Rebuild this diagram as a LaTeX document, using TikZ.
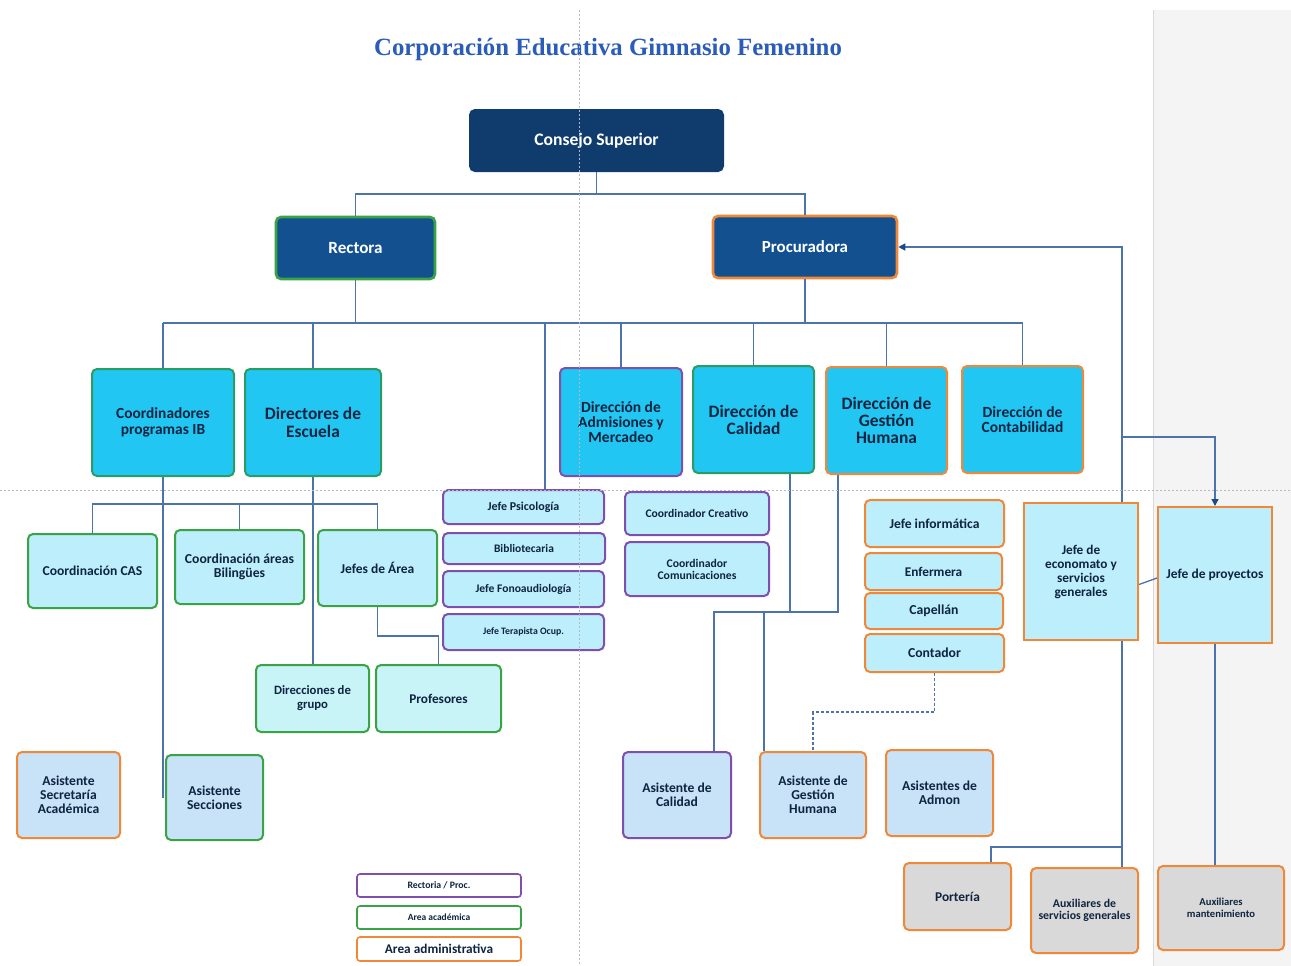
\documentclass[tikz,border=0pt]{standalone}
\usepackage{fontspec}
\setmainfont{Carlito}
\newfontfamily\titlefont{Liberation Serif}
\usetikzlibrary{arrows.meta,calc}
\definecolor{cnavy}{HTML}{0F3C6C}
\definecolor{cblue}{HTML}{12508F}
\definecolor{ccyan}{HTML}{22C6F2}
\definecolor{clt}{HTML}{BDEEFB}
\definecolor{cmint}{HTML}{C8F3F7}
\definecolor{cas}{HTML}{C8E2F8}
\definecolor{cgray}{HTML}{D9D9D9}
\definecolor{cgreen}{HTML}{3AA345}
\definecolor{cteal}{HTML}{2B9D62}
\definecolor{cpurple}{HTML}{7F4FAE}
\definecolor{corange}{HTML}{F08838}
\definecolor{cline}{HTML}{4D74AA}
\definecolor{carrow}{HTML}{1A4A8A}
\definecolor{ctext}{HTML}{0E2440}
\definecolor{ctitle}{HTML}{2B5CB8}
\definecolor{cguide}{HTML}{B8B8C4}
\definecolor{cbgg}{HTML}{F4F4F4}
\begin{document}
\begin{tikzpicture}[x=1pt,y=-1pt,
  base/.style={rounded corners=5pt, line width=2pt, align=center, inner sep=0pt, text=ctext},
  fs/.style 2 args={font=\bfseries\fontsize{#1}{#2}\selectfont},
  hdr/.style={base, fill=cblue, text=white},
  cy/.style={base, fill=ccyan},
  lt/.style={base, fill=clt},
  mint/.style={base, fill=cmint},
  asb/.style={base, fill=cas},
  gr/.style={base, fill=cgray},
  gb/.style={draw=cgreen},
  tb/.style={draw=cteal},
  pb/.style={draw=cpurple},
  ob/.style={draw=corange},
  lg/.style={base, fill=white, rounded corners=3pt, line width=1.6pt},
  conn/.style={draw=cline, line width=1.3pt},
  arr/.style={-{Triangle[length=7pt,width=7pt,color=carrow]}},
  guide/.style={draw=cguide, line width=0.8pt, dash pattern=on 2pt off 2pt}
]
\useasboundingbox (0,0) rectangle (1291,966);
\fill[white] (0,0) rectangle (1291,966);
\fill[cbgg] (1153,10) rectangle (1291,966);
\draw[gray!30, line width=1pt] (1153,10) -- (1153,966);

% title
\node[font=\titlefont\bfseries\fontsize{24.8}{26}\selectfont, text=ctitle] (title) at (608,50) {Corporación Educativa Gimnasio Femenino};

% top
\node[hdr, draw=cnavy, fill=cnavy, fs={17.6}{19}, minimum width=253, minimum height=61] (cons) at (596.5,140.5) {Consejo Superior};
\node[hdr, gb, line width=2.6pt, fs={17.1}{18}, minimum width=159, minimum height=62] (rect) at (355.5,248) {Rectora};
\node[hdr, ob, line width=2.6pt, fs={16.9}{18}, minimum width=184, minimum height=62] (proc) at (805,247) {Procuradora};

% cyan level
\node[cy, tb, fs={15.4}{16}, minimum width=142, minimum height=107] (ib) at (163,422.5) {Coordinadores\\programas IB};
\node[cy, tb, fs={17.4}{18}, minimum width=136, minimum height=107] (dire) at (313,422.5) {Directores de\\Escuela};
\node[cy, pb, fs={15.5}{15}, minimum width=122, minimum height=108] (adm) at (621,422) {Dirección de\\Admisiones y\\Mercadeo};
\node[cy, tb, fs={17.4}{17}, minimum width=121, minimum height=107] (cal) at (753.5,419.5) {Dirección de\\Calidad};
\node[cy, ob, fs={17.4}{17}, minimum width=121, minimum height=107] (gh) at (886.5,420.5) {Dirección de\\Gestión\\Humana};
\node[cy, ob, fs={15.5}{15}, minimum width=121, minimum height=107] (cont) at (1022.5,419.5) {Dirección de\\Contabilidad};

% second level
\node[lt, gb, fs={13.6}{14}, minimum width=129, minimum height=74] (cas) at (92.5,571) {Coordinación CAS};
\node[lt, gb, fs={13.7}{14}, minimum width=129, minimum height=74] (bil) at (239.5,567) {Coordinación áreas\\Bilingües};
\node[lt, gb, fs={13.5}{14}, minimum width=119, minimum height=76] (jar) at (377.5,568) {Jefes de Área};
\node[lt, pb, fs={12}{12}, minimum width=161, minimum height=34] (psi) at (523.5,507) {Jefe Psicología};
\node[lt, pb, fs={11.5}{12}, minimum width=162, minimum height=31] (bib) at (524,548.5) {Bibliotecaria};
\node[lt, pb, fs={11.6}{12}, minimum width=161, minimum height=36] (fon) at (523.5,589) {Jefe Fonoaudiología};
\node[lt, pb, fs={9.8}{10}, minimum width=161, minimum height=36] (ter) at (523.5,632) {Jefe Terapista Ocup.};
\node[lt, pb, fs={11.6}{12}, minimum width=144, minimum height=43] (ccr) at (697,513.5) {Coordinador Creativo};
\node[lt, pb, fs={11.7}{12}, minimum width=144, minimum height=54] (ccom) at (697,569) {Coordinador\\Comunicaciones};
\node[lt, ob, fs={13.6}{14}, minimum width=139, minimum height=47] (inf) at (934.5,523.5) {Jefe informática};
\node[lt, ob, fs={13.3}{14}, minimum width=137, minimum height=37] (enf) at (933.5,571.5) {Enfermera};
\node[lt, ob, fs={13.7}{14}, minimum width=138, minimum height=36] (cap) at (934,611) {Capellán};
\node[lt, ob, fs={13.7}{14}, minimum width=139, minimum height=38] (ctd) at (934.5,653) {Contador};
\node[lt, ob, sharp corners, fs={13.3}{14}, minimum width=114, minimum height=137] (eco) at (1081,571.5) {Jefe de\\economato y\\servicios\\generales};
\node[lt, ob, sharp corners, fs={13.5}{14}, minimum width=114, minimum height=136] (pry) at (1215,575) {Jefe de proyectos};

% third level
\node[mint, gb, fs={12.7}{14}, minimum width=113, minimum height=67] (dgr) at (312.5,698.5) {Direcciones de\\grupo};
\node[mint, gb, fs={13.3}{14}, minimum width=125, minimum height=67] (prof) at (438.5,698.5) {Profesores};

% assistants
\node[asb, ob, fs={13.6}{14}, minimum width=103, minimum height=86] (asa) at (68.5,795) {Asistente\\Secretaría\\Académica};
\node[asb, gb, fs={13.6}{14}, minimum width=97, minimum height=85] (ass) at (214.5,797.5) {Asistente\\Secciones};
\node[asb, pb, fs={13.6}{14}, minimum width=108, minimum height=86] (acal) at (677,795) {Asistente de\\Calidad};
\node[asb, ob, fs={13.6}{14}, minimum width=106, minimum height=86] (agh) at (813,795) {Asistente de\\Gestión\\Humana};
\node[asb, ob, fs={13.6}{14}, minimum width=107, minimum height=86] (aadm) at (939.5,793) {Asistentes de\\Admon};

% gray
\node[gr, ob, fs={13.4}{14}, minimum width=107, minimum height=67] (port) at (957.5,896.5) {Portería};
\node[gr, ob, fs={11.8}{12}, minimum width=107, minimum height=85] (aux) at (1084.5,910.5) {Auxiliares de\\servicios generales};
\node[gr, ob, fs={10.6}{12}, minimum width=126, minimum height=84] (mant) at (1221,908) {Auxiliares\\mantenimiento};

% legend
\node[lg, pb, fs={9.8}{10}, minimum width=164, minimum height=23] (l1) at (439,885.5) {Rectoria / Proc.};
\node[lg, gb, fs={9.5}{10}, minimum width=164, minimum height=23] (l2) at (439,917.5) {Area académica};
\node[lg, ob, fs={13.3}{14}, minimum width=164, minimum height=24] (l3) at (439,949) {Area administrativa};

% bus levels
\coordinate (b1) at (0,194);
\coordinate (b2) at (0,323);
\coordinate (b3) at (0,504);
\coordinate (b4) at (0,636);
\coordinate (b5) at (0,612);
\coordinate (b6) at (0,712);

% connectors
\draw[conn] (cons.south) -- (cons.south |- b1);
\draw[conn] (rect.north) -- (rect.north |- b1) -- (proc.north |- b1) -- (proc.north);
\draw[conn] (rect.south) -- (rect.south |- b2);
\draw[conn] (proc.south) -- (proc.south |- b2);
\draw[conn] (ib.north |- b2) -- (cont.north |- b2);
\draw[conn] (ib.north |- b2) -- (ib.north);
\draw[conn] (dire.north |- b2) -- (dire.north);
\coordinate (psitop) at ($(psi.north)+(21.5,0)$);
\draw[conn] (psitop |- b2) -- (psitop);
\draw[conn] (adm.north |- b2) -- (adm.north);
\draw[conn] (cal.north |- b2) -- (cal.north);
\draw[conn] (gh.north |- b2) -- (gh.north);
\draw[conn] (cont.north |- b2) -- (cont.north);

\draw[conn] (ib.south) -- (ib.south |- ass.west);
\draw[conn] (dire.south) -- (dire.south |- dgr.north);
\draw[conn] (cas.north) -- (cas.north |- b3) -- (jar.north |- b3) -- (jar.north);
\draw[conn] (bil.north) -- (bil.north |- b3);
\draw[conn] (jar.south) -- (jar.south |- b4) -| (prof.north);

\coordinate (calb) at ($(cal.south)+(36.5,0)$);
\coordinate (acalt) at ($(acal.north)+(37,0)$);
\draw[conn] (calb) -- (calb |- b5) -| (acalt);
\coordinate (ghb) at ($(gh.south)+(-48.5,0)$);
\coordinate (aght) at ($(agh.north)+(-49,0)$);
\draw[conn] (ghb) -- (ghb |- b5) -| (aght);
\draw[conn, dashed, dash pattern=on 3pt off 2pt] (ctd.south) -- (ctd.south |- b6) -| (agh.north);

\coordinate (ecot) at ($(eco.north)+(41,0)$);
\draw[conn, arr] (ecot) |- (proc.east);
\coordinate (ecobr) at ($(eco.north)+(41,-65)$);
\draw[conn, arr] (ecobr) -| (pry.north);
\coordinate (ecob) at ($(eco.south)+(41,0)$);
\coordinate (auxt) at ($(aux.north)+(37.5,0)$);
\draw[conn] (ecob) -- (auxt);
\coordinate (portt) at ($(port.north)+(33.5,0)$);
\draw[conn] ($(auxt)+(0,-20)$) -| (portt);
\draw[conn] (pry.south) -- (pry.south |- mant.north);
\draw[conn] ($(eco.east)+(0,13)$) -- ($(pry.west)+(0,3)$);

% page guides
\draw[guide] (579,10) -- (579,966);
\draw[guide] (0,490) -- (1291,490);
\end{tikzpicture}
\end{document}
